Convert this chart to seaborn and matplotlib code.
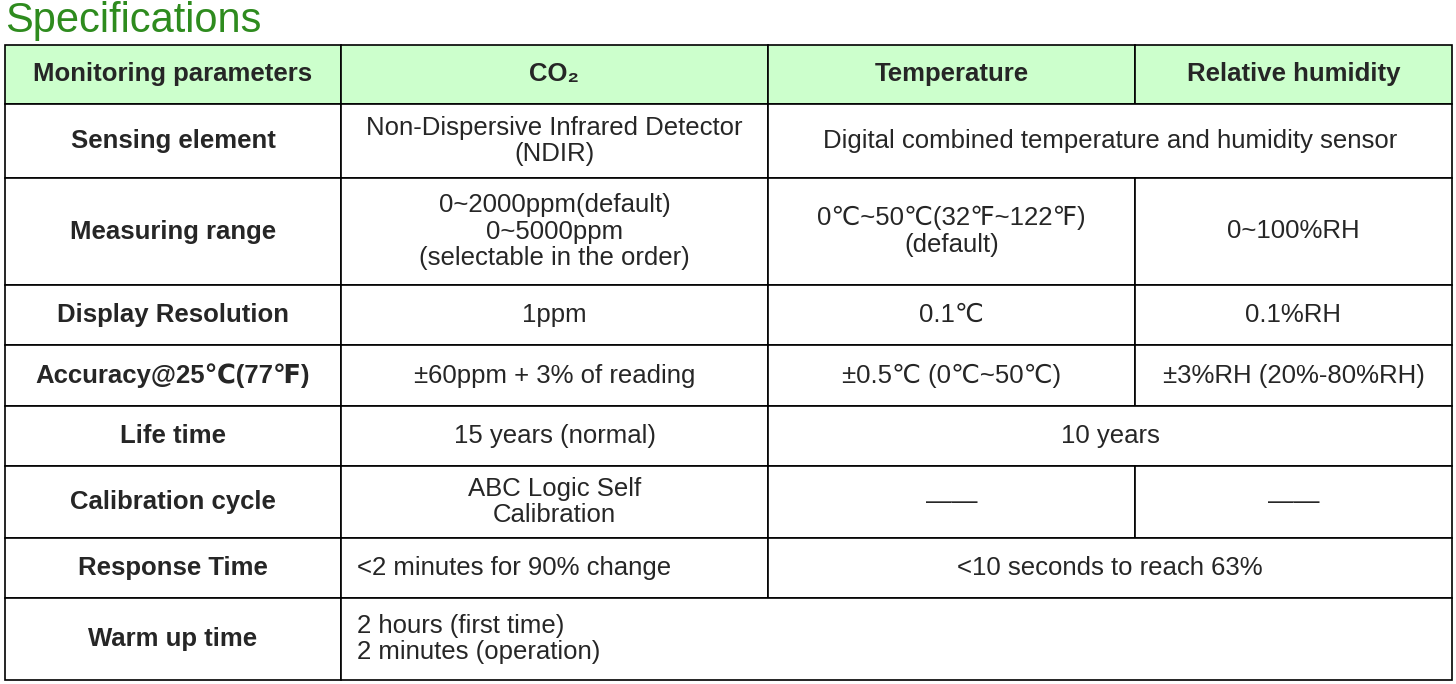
import matplotlib
matplotlib.use("Agg")
import matplotlib.pyplot as plt
import seaborn as sns
from matplotlib.patches import Rectangle

sns.set_style("white")
plt.rcParams['font.family'] = ['Liberation Sans', 'DejaVu Sans']

# Table content
title = "Specifications"
header = ["Monitoring parameters", "CO₂", "Temperature", "Relative humidity"]
row_labels = ["Sensing element", "Measuring range", "Display Resolution",
              "Accuracy@25℃(77℉)", "Life time", "Calibration cycle",
              "Response Time", "Warm up time"]
# each row: list of (first column, last column, text, align)
row_cells = [
    [(1, 1, "Non-Dispersive Infrared Detector\n(NDIR)", "center"),
     (2, 3, "Digital combined temperature and humidity sensor", "center")],
    [(1, 1, "0~2000ppm(default)\n0~5000ppm\n(selectable in the order)", "center"),
     (2, 2, "0℃~50℃(32℉~122℉)\n(default)", "center"),
     (3, 3, "0~100%RH", "center")],
    [(1, 1, "1ppm", "center"), (2, 2, "0.1℃", "center"), (3, 3, "0.1%RH", "center")],
    [(1, 1, "±60ppm + 3% of reading", "center"),
     (2, 2, "±0.5℃ (0℃~50℃)", "center"),
     (3, 3, "±3%RH (20%-80%RH)", "center")],
    [(1, 1, "15 years (normal)", "center"), (2, 3, "10 years", "center")],
    [(1, 1, "ABC Logic Self\nCalibration", "center"),
     (2, 2, "——", "center"), (3, 3, "——", "center")],
    [(1, 1, "<2 minutes for 90% change", "left"),
     (2, 3, "<10 seconds to reach 63%", "center")],
    [(1, 3, "2 hours (first time)\n2 minutes (operation)", "left")],
]

# Layout in pixels
col_x = [5, 341, 768, 1135, 1452]
row_y = [45, 104, 178, 285, 345, 406, 466, 538, 598, 680]
header_color = "#ccffcc"
title_color = "#2e8b1e"
fs = 18.5

fig = plt.figure(figsize=(14.56, 6.84), dpi=100)
ax = fig.add_axes([0, 0, 1, 1])
ax.set_xlim(0, 1456)
ax.set_ylim(684, 0)
ax.axis("off")

ax.text(5, 21, title, color=title_color, fontsize=30, va="center", ha="left")

def cell(c0, c1, r, text, align="center", bold=False, fill="white"):
    x0, x1 = col_x[c0], col_x[c1 + 1]
    y0, y1 = row_y[r], row_y[r + 1]
    ax.add_patch(Rectangle((x0, y0), x1 - x0, y1 - y0, facecolor=fill,
                           edgecolor="black", lw=1.2))
    tx = (x0 + x1) / 2 if align == "center" else x0 + 16
    ax.text(tx, (y0 + y1) / 2, text, ha=align, va="center", fontsize=fs,
            fontweight="bold" if bold else "normal", linespacing=1.15,
            multialignment=align)

for i, h in enumerate(header):
    cell(i, i, 0, h, bold=True, fill=header_color)
for r, (lab, cells) in enumerate(zip(row_labels, row_cells), start=1):
    cell(0, 0, r, lab, bold=True)
    for c0, c1, txt, al in cells:
        cell(c0, c1, r, txt, al)

fig.savefig("out.png", dpi=100)
